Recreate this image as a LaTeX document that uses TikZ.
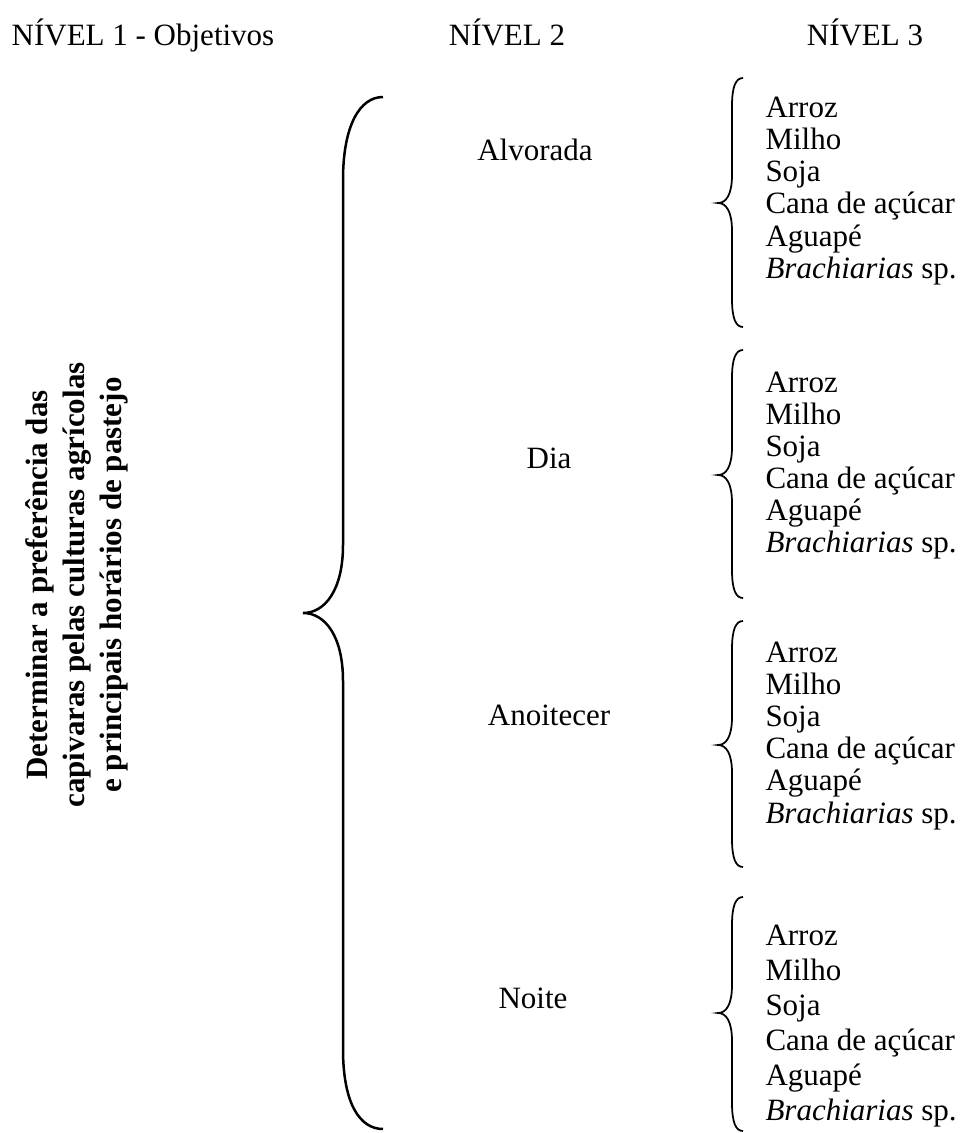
\documentclass[tikz,border=0pt]{standalone}
\usepackage{fontspec}
\setmainfont{Liberation Serif}
\newcommand{\fonte}{\fontsize{12.4}{14.8}\selectfont}

\begin{document}
\begin{tikzpicture}[x=0.4pt,y=-0.4pt,every node/.style={inner sep=0pt,font=\fonte},
	nivel/.style={anchor=base},item/.style={anchor=base west},
	chave/.style={line width=0.7pt},chavegrande/.style={line width=1pt}]
	\useasboundingbox (0,0) rectangle (963,1133);
	
	% cabecalho
	\node[nivel] (n1) at (143,45) {NÍVEL 1 - Objetivos};
	\node[nivel] (n2) at (507,45) {NÍVEL 2};
	\node[nivel] (n3) at (865,45) {NÍVEL 3};
	
	% nivel 1
	\node[rotate=90,align=center,font=\fonte\bfseries] (obj) at (77,585)
	{Determinar a preferência das\\capivaras pelas culturas agrícolas\\e principais horários de pastejo};
	\draw[chavegrande] (383,97) .. controls (360,97) and (343,125) .. (343,180) -- (343,545)
	.. controls (343,590) and (325,613) .. (303,613) .. controls (325,613) and (343,636) .. (343,681)
	-- (343,1049) .. controls (343,1104) and (360,1129) .. (383,1129);
	
	% nivel 2
	\node[nivel] (alv) at (535,160) {Alvorada};
	\node[nivel] (dia) at (549,468) {Dia};
	\node[nivel] (ano) at (549,725) {Anoitecer};
	\node[nivel] (noi) at (533,1008) {Noite};
	
	% nivel 3
	\foreach \n/\ya/\ym/\yb/\yt/\dy in {1/78/203/327/117/32.3, 2/350/475/598/392/32,
		3/621/745/867/662/32.2, 4/897/1013/1131/945/35}{
		\draw[chave] (743,\ya) .. controls (736,\ya) and (732,\ya+8) .. (732,\ya+28) -- (732,\ym-28)
		.. controls (732,\ym-8) and (726,\ym) .. (718,\ym) .. controls (726,\ym) and (732,\ym+8) .. (732,\ym+28)
		-- (732,\yb-28) .. controls (732,\yb-8) and (736,\yb) .. (743,\yb);
		\foreach \c [count=\k from 0] in {Arroz, Milho, Soja, Cana de açúcar, Aguapé, \textit{Brachiarias} sp.}
		\node[item] (c\n-\k) at (765,\yt+\k*\dy) {\c};
	}
\end{tikzpicture}
\end{document}
